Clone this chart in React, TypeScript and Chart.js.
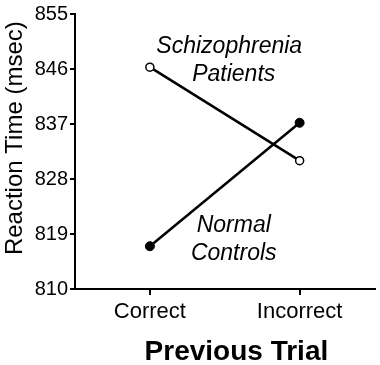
import React, { useEffect, useRef } from "react";
import { Chart, registerables } from "chart.js";

Chart.register(...registerables);

const categories = ["Correct", "Incorrect"];
const schizophreniaValues = [846.3, 831.0];
const controlValues = [817.0, 837.2];
const yTicks = [810, 819, 828, 837, 846, 855];
const annotations = [
  { text: "Schizophrenia", x: 0.53, y: 848.7 },
  { text: "Patients", x: 0.56, y: 844.1 },
  { text: "Normal", x: 0.56, y: 819.4 },
  { text: "Controls", x: 0.56, y: 814.7 },
];

const FONT = "'Liberation Sans', Arial, sans-serif";

const annotationPlugin = {
  id: "textAnnotations",
  afterDatasetsDraw(chart: any) {
    const { ctx, scales } = chart;
    ctx.save();
    ctx.font = `italic 23px ${FONT}`;
    ctx.fillStyle = "#000";
    ctx.textAlign = "center";
    ctx.textBaseline = "alphabetic";
    for (const a of annotations) {
      const px = scales.x.getPixelForValue(a.x);
      const py = scales.y.getPixelForValue(a.y);
      ctx.fillText(a.text, px, py);
    }
    ctx.restore();
  },
};

export default function App() {
  const ref = useRef<HTMLCanvasElement>(null);
  useEffect(() => {
    if (!ref.current) return;
    const chart = new Chart(ref.current, {
      type: "line",
      data: {
        labels: categories,
        datasets: [
          {
            label: "Schizophrenia Patients",
            data: schizophreniaValues,
            borderColor: "#000",
            borderWidth: 2.5,
            pointRadius: 4,
            pointBorderWidth: 1.5,
            pointBackgroundColor: "#fff",
            pointBorderColor: "#000",
            fill: false,
            tension: 0,
          },
          {
            label: "Normal Controls",
            data: controlValues,
            borderColor: "#000",
            borderWidth: 2.5,
            pointRadius: 4.5,
            pointBorderWidth: 1,
            pointBackgroundColor: "#000",
            pointBorderColor: "#000",
            fill: false,
            tension: 0,
          },
        ],
      },
      options: {
        animation: false,
        responsive: false,
        layout: { padding: { top: 14, right: 5, left: 0, bottom: 0 } },
        plugins: { legend: { display: false }, tooltip: { enabled: false } },
        scales: {
          x: {
            type: "category",
            offset: true,
            grid: {
              display: true,
              drawOnChartArea: false,
              drawTicks: true,
              tickLength: 6,
              color: "#000",
              tickColor: "#000",
              tickWidth: 2,
              lineWidth: 2,
              offset: false,
            },
            border: { display: true, color: "#000", width: 2 },
            ticks: {
              color: "#000",
              font: { family: FONT, size: 22 },
              padding: 4,
            },
            title: {
              display: true,
              text: "   Previous Trial",
              color: "#000",
              font: { family: FONT, size: 28, weight: "bold" },
              padding: { top: 4, bottom: -4 },
            },
            afterFit(scale: any) {
              scale.height = 76;
            },
          },
          y: {
            min: 810,
            max: 855,
            afterBuildTicks(scale: any) {
              scale.ticks = yTicks.map((v) => ({ value: v }));
            },
            grid: {
              display: true,
              drawOnChartArea: false,
              drawTicks: true,
              tickLength: 5,
              color: "#000",
              tickColor: "#000",
              tickWidth: 2,
              lineWidth: 2,
            },
            border: { display: true, color: "#000", width: 2 },
            ticks: {
              color: "#000",
              font: { family: FONT, size: 20 },
              padding: 2,
            },
            title: {
              display: true,
              text: "    Reaction Time (msec)",
              color: "#000",
              font: { family: FONT, size: 24 },
              padding: { top: 1, bottom: 2 },
            },
            afterFit(scale: any) {
              scale.width = 75;
            },
          },
        },
      },
      plugins: [annotationPlugin],
    });
    return () => chart.destroy();
  }, []);
  return (
    <div style={{ position: "absolute", left: 0, top: 0, width: 380, height: 365, background: "#fff" }}>
      <canvas ref={ref} width={380} height={365} />
    </div>
  );
}
